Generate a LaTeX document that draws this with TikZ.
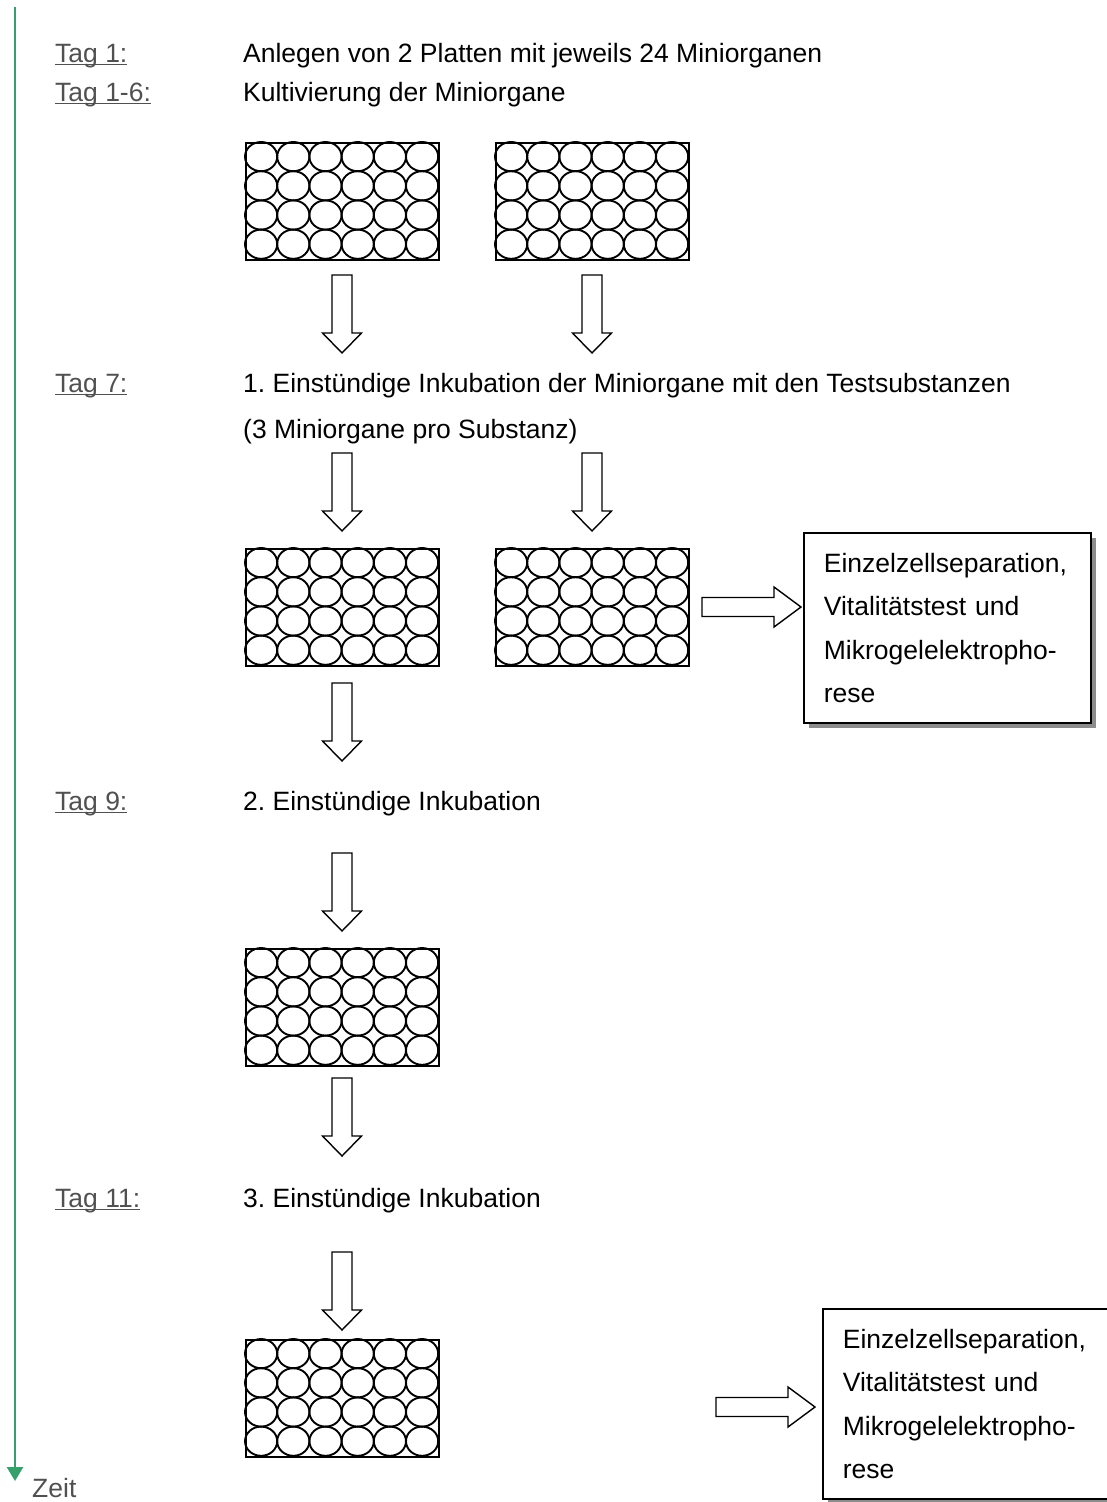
\documentclass[tikz,border=0pt]{standalone}
\usepackage{fontspec}
\setmainfont{Liberation Sans}
\usepackage{xcolor}
\usetikzlibrary{arrows.meta, positioning, shadows}

\definecolor{taggrey}{RGB}{80,80,80}
\definecolor{timegreen}{RGB}{54,160,108}
\newcommand{\tagul}[1]{\setbox0=\hbox{#1}\rlap{\rule[-3.4pt]{\wd0}{1.8pt}}\box0}
\frenchspacing

\begin{document}
\begin{tikzpicture}[
			x=1pt, y=1pt,
			font=\fontsize{26.5}{43.5}\selectfont,
			tagtext/.style={anchor=base west, inner sep=0, text=taggrey},
			maintext/.style={anchor=base west, inner sep=0},
			timeline/.style={draw=timegreen, line width=2.5pt, -{Triangle[width=16pt, length=14pt]}},
			resultbox/.style={draw, line width=1.8pt, fill=white, anchor=north west, minimum width=287pt, minimum height=190pt, text width=247pt, inner xsep=20pt, inner ysep=0, align=left, drop shadow={shadow xshift=5pt, shadow yshift=-5pt, fill=black!45, opacity=1}},
			plate/.pic={
				\foreach \i in {0,...,5}
				\foreach \j in {0,...,3}
				\draw[line width=1.9pt] (16.1+32.2*\i, -14.6-29.2*\j) ellipse [x radius=16.1pt, y radius=14.6pt];
				\node[draw, line width=2.2pt, anchor=north west, minimum width=193pt, minimum height=117pt, inner sep=0] (-box) at (0,0) {};
			},
			downarrow/.pic={
				\draw[line width=1.4pt] (-10,0) -- (10,0) -- (10,-58) -- (19.5,-58) -- (0,-78) -- (-19.5,-58) -- (-10,-58) -- cycle;
			},
			rightarrow/.pic={
				\draw[line width=1.4pt] (0,9.5) -- (72,9.5) -- (72,20) -- (99,0) -- (72,-20) -- (72,-9.5) -- (0,-9.5) -- cycle;
			},
			]
			\useasboundingbox (0,0) rectangle (1107,-1502);
			
			% Timeline
			\coordinate (tstart) at (15,-7);
			\coordinate (tend) at (15,-1481);
			\draw[timeline] (tstart) -- (tend);
			\node[tagtext] (zeit) at (32,-1497) {Zeit};
			
			% Days
			\node[tagtext] (tag1) at (55,-62) {\tagul{Tag 1:}};
			\node[tagtext] (tag16) at (55,-101) {\tagul{Tag 1-6:}};
			\node[tagtext] (tag7) at (55,-392) {\tagul{Tag 7:}};
			\node[tagtext] (tag9) at (55,-810) {\tagul{Tag 9:}};
			\node[tagtext] (tag11) at (55,-1207) {\tagul{Tag 11:}};
			
			% Steps
			\node[maintext] (anlegen) at (243,-62) {Anlegen von 2 Platten mit jeweils 24 Miniorganen};
			\node[maintext] (kult) at (243,-101) {Kultivierung der Miniorgane};
			\node[maintext] (ink1) at (243,-392) {1. Einstündige Inkubation der Miniorgane mit den Testsubstanzen};
			\node[maintext] (ink1b) at (243,-438) {(3 Miniorgane pro Substanz)};
			\node[maintext] (ink2) at (243,-810) {2. Einstündige Inkubation};
			\node[maintext] (ink3) at (243,-1207) {3. Einstündige Inkubation};
			
			% Plates
			\pic (pa) at (245,-142) {plate};
			\pic (pb) at (495,-142) {plate};
			\pic (pc) at (245,-548) {plate};
			\pic (pd) at (495,-548) {plate};
			\pic (pe) at (245,-948) {plate};
			\pic (pf) at (245,-1339) {plate};
			
			% Results
			\node[resultbox] (res1) at (803,-532) {Einzelzellseparation,\\Vitalitätstest und\\Mikrogelelektropho-\\rese};
			\node[resultbox] (res2) at (822,-1308) {Einzelzellseparation,\\Vitalitätstest und\\Mikrogelelektropho-\\rese};
			
			% Arrows
			\pic (da1) at (342,-275) {downarrow};
			\pic (da2) at (592,-275) {downarrow};
			\pic (da3) at (342,-453) {downarrow};
			\pic (da4) at (592,-453) {downarrow};
			\pic (da5) at (342,-683) {downarrow};
			\pic (da6) at (342,-853) {downarrow};
			\pic (da7) at (342,-1078) {downarrow};
			\pic (da8) at (342,-1252) {downarrow};
			\pic (ra1) at (702,-607) {rightarrow};
			\pic (ra2) at (716,-1407) {rightarrow};
		\end{tikzpicture}
\end{document}
